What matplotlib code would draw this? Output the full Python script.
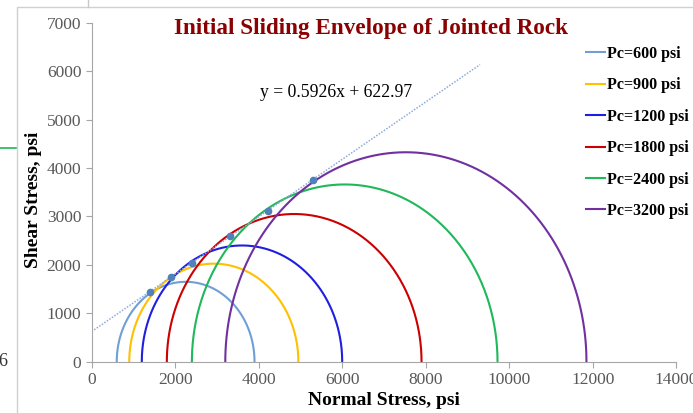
import numpy as np
import matplotlib.pyplot as plt
from matplotlib.lines import Line2D
from matplotlib.patches import Rectangle

plt.rcParams['font.family'] = ['Liberation Serif', 'DejaVu Serif']

# Confining pressure (sigma3) and peak axial stress (sigma1), psi
pc = [600, 900, 1200, 1800, 2400, 3200]
sigma1 = [3900, 4950, 6000, 7900, 9720, 11850]
labels = ['Pc=600 psi', 'Pc=900 psi', 'Pc=1200 psi', 'Pc=1800 psi', 'Pc=2400 psi', 'Pc=3200 psi']
colors = ['#6f9fd4', '#ffc000', '#1f1fe0', '#cc0000', '#1fb85a', '#7030a0']

# Linear fit of the tangent points
slope = 0.5926
intercept = 622.97
trend_x = [0, 9300]

fig = plt.figure(figsize=(6.93, 4.13), dpi=100)
ax = fig.add_axes([0.1323, 0.1242, 0.8435, 0.8208])

theta = np.linspace(0, np.pi, 300)
tx, ty = [], []
for s3, s1, c, lab in zip(pc, sigma1, colors, labels):
    center = (s1 + s3) / 2
    radius = (s1 - s3) / 2
    ax.plot(center + radius * np.cos(theta), radius * np.sin(theta), color=c, lw=1.5, label=lab)
    # foot of the perpendicular from the circle centre to the envelope
    d = (slope * center + intercept) / (1 + slope ** 2)
    tx.append(center - slope * d)
    ty.append(d)

xs = np.array(trend_x)
ax.plot(xs, slope * xs + intercept, color='#8faadc', lw=1.1, ls=(0, (1, 1)))
ax.plot(tx, ty, 'o', color='#4f81bd', ms=4.5, zorder=5)

ax.set_xlim(0, 14000)
ax.set_ylim(0, 7000)
ax.set_xticks(range(0, 14001, 2000))
ax.set_yticks(range(0, 7001, 1000))
for s in ['top', 'right']:
    ax.spines[s].set_visible(False)
for s in ['left', 'bottom']:
    ax.spines[s].set_color('#a6a6a6')
ax.tick_params(colors='#a6a6a6', labelcolor='#595959', labelsize=12.5, length=4)

ax.set_xlabel('Normal Stress, psi', fontsize=14, fontweight='bold', labelpad=3)
ax.set_ylabel('Shear Stress, psi', fontsize=14, fontweight='bold')
ax.yaxis.set_label_coords(-0.085, 0.477)

fig.text(0.535, 0.932, 'Initial Sliding Envelope of Jointed Rock', ha='center', va='center',
         fontsize=16.7, fontweight='bold', color='#8b0000')
fig.text(0.485, 0.777, 'y = 0.5926x + 622.97', ha='center', va='center', fontsize=12.7)

handles = [Line2D([], [], color=c, lw=1.5) for c in colors]
fig.legend(handles, labels, loc='upper left', bbox_to_anchor=(0.836, 0.905), frameon=False,
           prop={'weight': 'bold', 'size': 11.5}, handlelength=1.2, handletextpad=0.12,
           labelspacing=0.97, borderaxespad=0)

# chart frame and edge bits
fig.add_artist(Rectangle((17.3 / 693, -0.1), 1.0, 1 - 7.3 / 413 + 0.1, transform=fig.transFigure,
                         fill=False, ec='#d0d0d0', lw=1))
fig.add_artist(Line2D([88 / 693, 88 / 693], [1 - 7.3 / 413, 1], transform=fig.transFigure,
                      color='#c8c8c8', lw=1))
fig.add_artist(Line2D([0, 16 / 693], [1 - 148 / 413, 1 - 148 / 413], transform=fig.transFigure,
                      color='#1fb85a', lw=1.2))
fig.text(-0.002, 1 - 362 / 413, '6', ha='left', va='center', fontsize=13, color='#333333')

fig.savefig('out.png', dpi=100)
